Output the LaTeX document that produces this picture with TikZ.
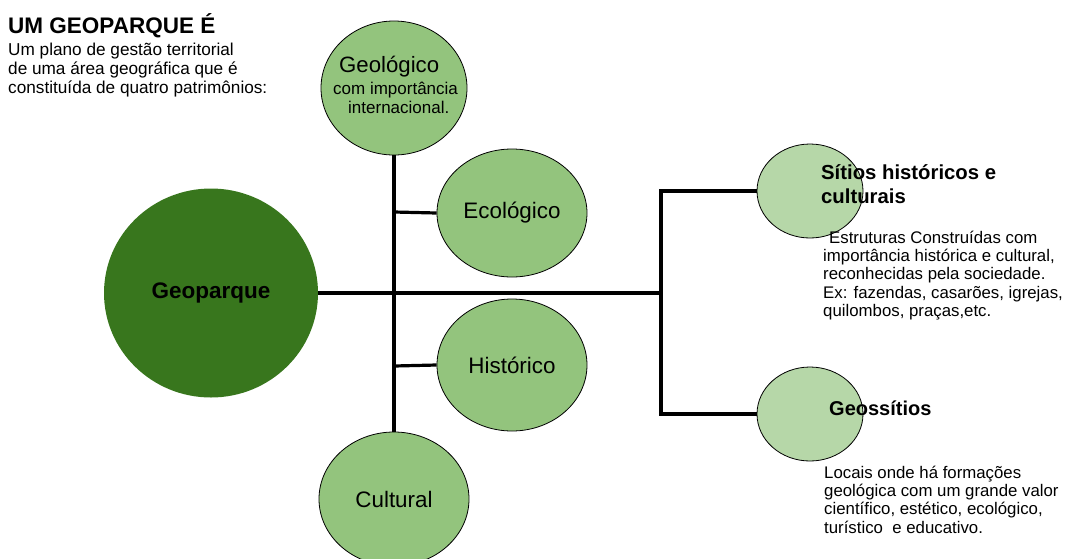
\documentclass[tikz,border=0pt]{standalone}
\usepackage{fontspec}
\setmainfont{Liberation Sans}
\usetikzlibrary{shapes.geometric}
\definecolor{darkg}{HTML}{38761D}
\definecolor{midg}{HTML}{93C47D}
\definecolor{lightg}{HTML}{B6D7A8}
\begin{document}
\begin{tikzpicture}[x=1pt,y=-1pt,
  conn/.style={line width=3.2pt, draw=black},
  bubble/.style={ellipse, draw=black, line width=0.8pt, fill=midg, inner sep=0pt,
    font=\fontsize{22.4}{26}\selectfont},
  smallbubble/.style={ellipse, draw=black, line width=0.8pt, fill=lightg, inner sep=0pt,
    minimum width=106pt, minimum height=94pt},
  txt/.style={inner sep=0pt, anchor=base west, align=left},
  desc/.style={txt, font=\fontsize{16.8}{18.4}\selectfont},
  ttl/.style={txt, font=\fontsize{20.3}{24}\selectfont\bfseries}
]
\useasboundingbox (0,0) rectangle (1074,558);

% central circle
\node[ellipse, fill=darkg, inner sep=0pt, minimum width=214pt, minimum height=209pt,
  font=\fontsize{22.5}{26}\selectfont\bfseries] (geo) at (211,293) {Geoparque};

% heritage ellipses
\node[bubble, minimum width=146pt, minimum height=134pt] (geol) at (394,88) {};
\node[bubble, minimum width=150pt, minimum height=128pt] (ecol) at (512,213) {Ecológico};
\node[bubble, minimum width=150pt, minimum height=132pt] (hist) at (512,365) {Histórico};
\node[bubble, minimum width=150pt, minimum height=134pt] (cult) at (394,499) {Cultural};

% right ellipses
\node[smallbubble] (sit) at (810,191) {};
\node[smallbubble] (gss) at (810,414) {};

% connector points
\coordinate (hub) at (394,293);
\coordinate (ecolj) at (394,212);
\coordinate (histj) at (394,366);
\coordinate (bm) at (661,293);
\coordinate (bt) at (661,191);
\coordinate (bb) at (661,414);

\draw[conn] (geol.south) -- (cult.north);
\draw[conn] (geo.east) -- (hub) -- (bm);
\draw[conn] (ecolj) -- (ecol.west);
\draw[conn] (histj) -- (hist.west);
\draw[conn] (sit.west) -- (bt) -- (bb) -- (gss.west);

% texts (base anchor of a multi-line node = baseline of its last line)
\node[txt, font=\fontsize{22.5}{26}\selectfont\bfseries] (title) at (8,33) {UM GEOPARQUE É};
\node[txt, font=\fontsize{17.2}{19.2}\selectfont] (intro) at (8,93.4)
  {Um plano de gestão territorial\\de uma área geográfica que é\\constituída de quatro patrimônios:};

\node[txt, font=\fontsize{22.2}{26}\selectfont] (geoltxt) at (339,72) {Geológico};
\node[txt, font=\fontsize{17}{19.3}\selectfont] (geolsub) at (333,113.3)
  {com importância\\\hspace*{15pt}internacional.};

\node[ttl] (sittxt) at (821,203.5) {Sítios históricos e\\culturais};
\node[desc] (sitdesc) at (823,316.7)
  {\hspace*{6pt}Estruturas Construídas com\\importância histórica e cultural,\\reconhecidas pela sociedade.\\Ex: fazendas, casarões, igrejas,\\quilombos, praças,etc.};

\node[txt, font=\fontsize{20}{24}\selectfont\bfseries] (gsstxt) at (829,415) {Geossítios};
\node[desc] (gssdesc) at (824,533.3)
  {Locais onde há formações\\geológica com um grande valor\\científico, estético, ecológico,\\turístico\ \ e educativo.};
\end{tikzpicture}
\end{document}
